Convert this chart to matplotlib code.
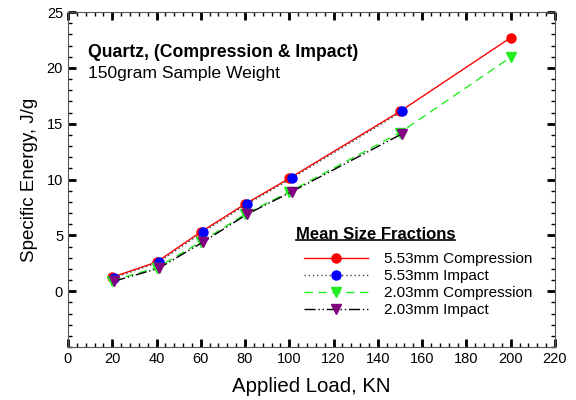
import matplotlib
matplotlib.use("Agg")
import matplotlib.pyplot as plt
from matplotlib.ticker import MultipleLocator

plt.rcParams['font.family'] = ['Liberation Sans', 'DejaVu Sans']

load_comp = [20, 40, 60, 80, 100, 150, 200]
load_imp = [21, 41, 61, 81, 101, 151]
e553_comp = [1.25, 2.6, 5.3, 7.8, 10.1, 16.1, 22.7]
e553_imp = [1.2, 2.6, 5.3, 7.8, 10.1, 16.1]
e203_comp = [0.95, 2.1, 4.4, 6.9, 8.9, 14.2, 20.95]
e203_imp = [0.9, 2.05, 4.4, 6.9, 8.9, 14.1]
labels = ["5.53mm Compression", "5.53mm Impact", "2.03mm Compression", "2.03mm Impact"]

fig = plt.figure(figsize=(5.76, 4.0), dpi=100)
ax = fig.add_axes([0.118, 0.1325, 0.8455, 0.8375])

ms = 6.5
ax.plot(load_comp, e553_comp, color='red', lw=1, marker='o', ms=ms, label=labels[0])
ax.plot(load_imp, e553_imp, color='#444444', lw=1, ls=(0, (1, 2)), marker='o', ms=ms,
        mfc='blue', mec='blue', label=labels[1])
ax.plot(load_comp, e203_comp, color='#22ee22', lw=1, ls=(0, (6, 4)), marker='v', ms=ms+0.5,
        mfc='#22ee22', mec='#22ee22', label=labels[2])
ax.plot(load_imp, e203_imp, color='black', lw=1, ls=(0, (8, 2, 1, 2, 1, 2)), marker='v', ms=ms+0.5,
        mfc='#800080', mec='#800080', label=labels[3])

ax.set_xlim(0, 220)
ax.set_ylim(-5, 25)
ax.xaxis.set_major_locator(MultipleLocator(20))
ax.xaxis.set_minor_locator(MultipleLocator(4))
ax.yaxis.set_minor_locator(MultipleLocator(1))
ax.set_yticks([0, 5, 10, 15, 20, 25])
ax.tick_params(which='both', direction='in', top=True, right=True, labelsize=10.5)
ax.tick_params(which='major', length=6, width=2)
ax.tick_params(which='minor', length=3, width=1)
for s in ax.spines.values():
    s.set_color('#555555')

ax.set_xlabel("Applied Load, KN", fontsize=14.7, labelpad=8)
ax.set_ylabel("Specific Energy, J/g", fontsize=13.5, labelpad=6)

ax.text(0.041, 0.878, "Quartz, (Compression & Impact)", transform=ax.transAxes,
        fontsize=12.7, fontweight='bold', va='center')
ax.text(0.041, 0.815, "150gram Sample Weight", transform=ax.transAxes,
        fontsize=12.6, va='center')

ax.text(0.469, 0.335, "Mean Size Fractions", transform=ax.transAxes,
        fontsize=12, fontweight='bold', va='center')
ax.plot([0.469, 0.795], [0.3185, 0.3185], transform=ax.transAxes, color='black', lw=1.2,
        clip_on=False)

leg = ax.legend(loc='upper left', bbox_to_anchor=(0.4566, 0.324), frameon=False,
                fontsize=11, handlelength=4.17, numpoints=1, labelspacing=0.2,
                handletextpad=1.05)

fig.savefig("out.png", dpi=100)
